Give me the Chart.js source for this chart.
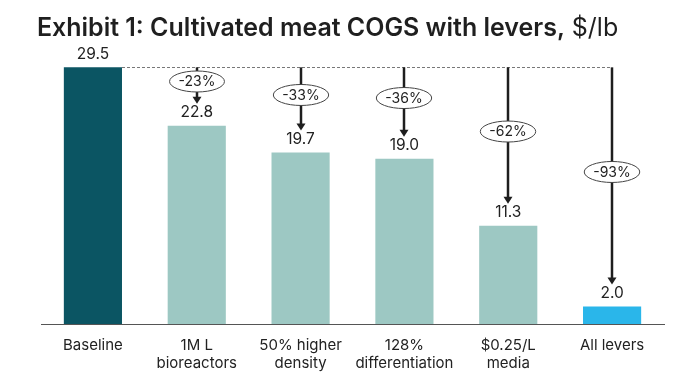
<!DOCTYPE html>
<html>
<head>
<meta charset="utf-8">
<script src="https://cdn.jsdelivr.net/npm/chart.js@4.4.0/dist/chart.umd.min.js"></script>
<style>
html,body{margin:0;padding:0;background:#fff;}
#wrap{position:relative;width:685px;height:379px;}
</style>
</head>
<body>
<div id="wrap"><canvas id="c" width="685" height="379"></canvas></div>
<script>
const categories = [["Baseline"], ["1M L", "bioreactors"], ["50% higher", "density"], ["128%", "differentiation"], ["$0.25/L", "media"], ["All levers"]];
const values = [29.5, 22.8, 19.7, 19.0, 11.3, 2.0];
const valueLabels = ["29.5", "22.8", "19.7", "19.0", "11.3", "2.0"];
const changeLabels = ["", "-23%", "-33%", "-36%", "-62%", "-93%"];
const barColors = ["#0B5563", "#9DC8C3", "#9DC8C3", "#9DC8C3", "#9DC8C3", "#2AB6EA"];
const titleBold = "Exhibit 1: Cultivated meat COGS with levers,";
const titleNormal = " $/lb";

const FONT = "Inter, 'Open Sans', sans-serif";

const overlay = {
  id: 'overlay',
  afterDatasetsDraw(chart) {
    const ctx = chart.ctx;
    const meta = chart.getDatasetMeta(0);
    const y = chart.scales.y;
    const baseY = y.getPixelForValue(values[0]);
    ctx.save();
    // value labels
    ctx.fillStyle = '#222';
    ctx.font = '15.5px ' + FONT;
    ctx.textAlign = 'center';
    ctx.textBaseline = 'middle';
    meta.data.forEach((bar, i) => {
      ctx.fillText(valueLabels[i], bar.x, bar.y - 13);
    });
    // dashed reference line
    const b0 = meta.data[0];
    const last = meta.data[meta.data.length - 1];
    ctx.strokeStyle = '#777';
    ctx.lineWidth = 1;
    ctx.setLineDash([3, 2]);
    ctx.beginPath();
    ctx.moveTo(b0.x + b0.width / 2, Math.round(baseY) + 0.5);
    ctx.lineTo(last.x, Math.round(baseY) + 0.5);
    ctx.stroke();
    ctx.setLineDash([]);
    // arrows + ellipses
    for (let i = 1; i < meta.data.length; i++) {
      const bar = meta.data[i];
      const x = Math.round(bar.x);
      const tip = bar.y - 22;
      ctx.strokeStyle = '#1e1e1e';
      ctx.fillStyle = '#1e1e1e';
      ctx.lineWidth = 2.5;
      ctx.beginPath();
      ctx.moveTo(x, baseY);
      ctx.lineTo(x, tip - 6);
      ctx.stroke();
      ctx.beginPath();
      ctx.moveTo(x - 4.5, tip - 7);
      ctx.lineTo(x + 4.5, tip - 7);
      ctx.lineTo(x, tip);
      ctx.closePath();
      ctx.fill();
      // ellipse
      const cy = (baseY + tip) / 2 - 4;
      ctx.font = '14px ' + FONT;
      const tw = ctx.measureText(changeLabels[i]).width;
      const rx = tw / 2 + 9, ry = 10.5;
      ctx.beginPath();
      ctx.ellipse(x, cy, rx, ry, 0, 0, Math.PI * 2);
      ctx.fillStyle = '#fff';
      ctx.fill();
      ctx.strokeStyle = '#444';
      ctx.lineWidth = 1;
      ctx.stroke();
      ctx.fillStyle = '#222';
      ctx.fillText(changeLabels[i], x, cy + 0.5);
    }
    // title
    let fs = 24;
    ctx.font = '600 ' + fs + 'px ' + FONT;
    let w = ctx.measureText(titleBold).width;
    fs = fs * 528 / w;
    ctx.font = '600 ' + fs + 'px ' + FONT;
    ctx.textAlign = 'left';
    ctx.textBaseline = 'alphabetic';
    ctx.fillStyle = '#1f1f1f';
    ctx.fillText(titleBold, 37, 36);
    const bw = ctx.measureText(titleBold).width;
    ctx.font = '400 ' + fs + 'px ' + FONT;
    ctx.fillText(titleNormal, 37 + bw, 36);
    ctx.restore();
  }
};

new Chart(document.getElementById('c'), {
  type: 'bar',
  data: {
    labels: categories,
    datasets: [{
      data: values,
      backgroundColor: barColors,
      borderWidth: 0,
      categoryPercentage: 1,
      barPercentage: 0.56
    }]
  },
  options: {
    responsive: false,
    animation: false,
    layout: { padding: { left: 41, right: 21, top: 63, bottom: 0 } },
    plugins: { legend: { display: false }, tooltip: { enabled: false }, title: { display: false } },
    scales: {
      x: {
        grid: { display: false },
        border: { display: true, color: '#555', width: 1 },
        ticks: { color: '#222', font: { family: FONT, size: 15 }, padding: 4, maxRotation: 0, autoSkip: false },
        afterFit(scale) { scale.height = 55; }
      },
      y: {
        display: false,
        min: 0,
        max: 30
      }
    }
  },
  plugins: [overlay]
});
</script>
</body>
</html>
